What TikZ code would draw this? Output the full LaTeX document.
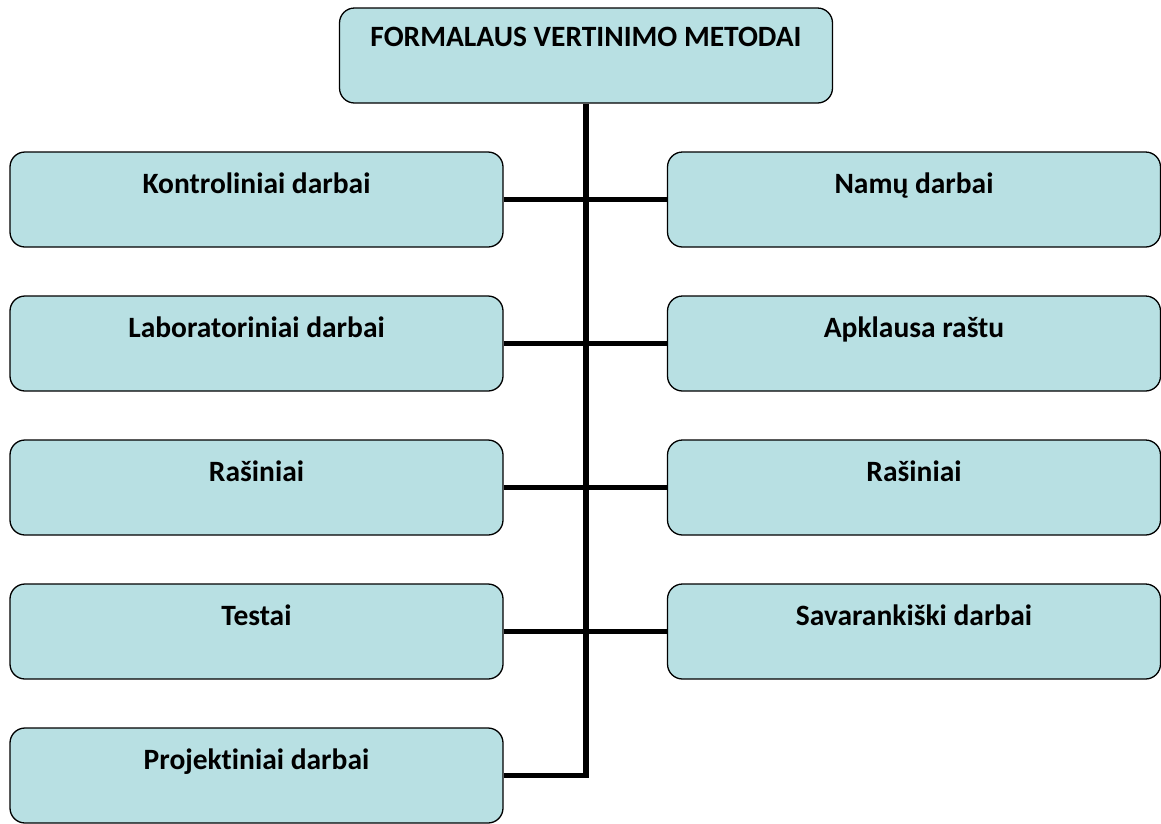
\documentclass[tikz,border=0pt]{standalone}
\usepackage{fontspec}
\setmainfont{Carlito}[Ligatures=NoCommon]

\begin{document}
\begin{tikzpicture}[x=1pt,y=-1pt,
  method/.style={draw,line width=1.3pt,rounded corners=15pt,fill=boxfill,
    minimum width=493pt,minimum height=95pt,inner sep=0pt,
    font=\fontsize{29.5}{31}\selectfont\bfseries,text height=20pt,text depth=33pt},
  title/.style={method,text depth=39pt},
  link/.style={line width=5.5pt}]
\definecolor{boxfill}{RGB}{184,224,227}
\useasboundingbox (0,0) rectangle (1161,823);
% The title box
\node[title] (top) at (586,55.5) {FORMALAUS VERTINIMO METODAI};
% The left column
\foreach \lbl [count=\i] in {Kontroliniai darbai,Laboratoriniai darbai,Rašiniai,Testai,Projektiniai darbai}
  \node[method] (k\i) at (256.5,{199.5+144*(\i-1)}) {\lbl};
% The right column
\foreach \lbl [count=\i] in {Namų darbai,Apklausa raštu,Rašiniai,Savarankiški darbai}
  \node[method] (d\i) at (914,{199.5+144*(\i-1)}) {\lbl};
% The trunk and the branches
\draw[link] (top.south) |- (k5.east);
\foreach \i in {1,...,4}
  \draw[link] (k\i.east) -- (d\i.west);
\end{tikzpicture}
\end{document}
